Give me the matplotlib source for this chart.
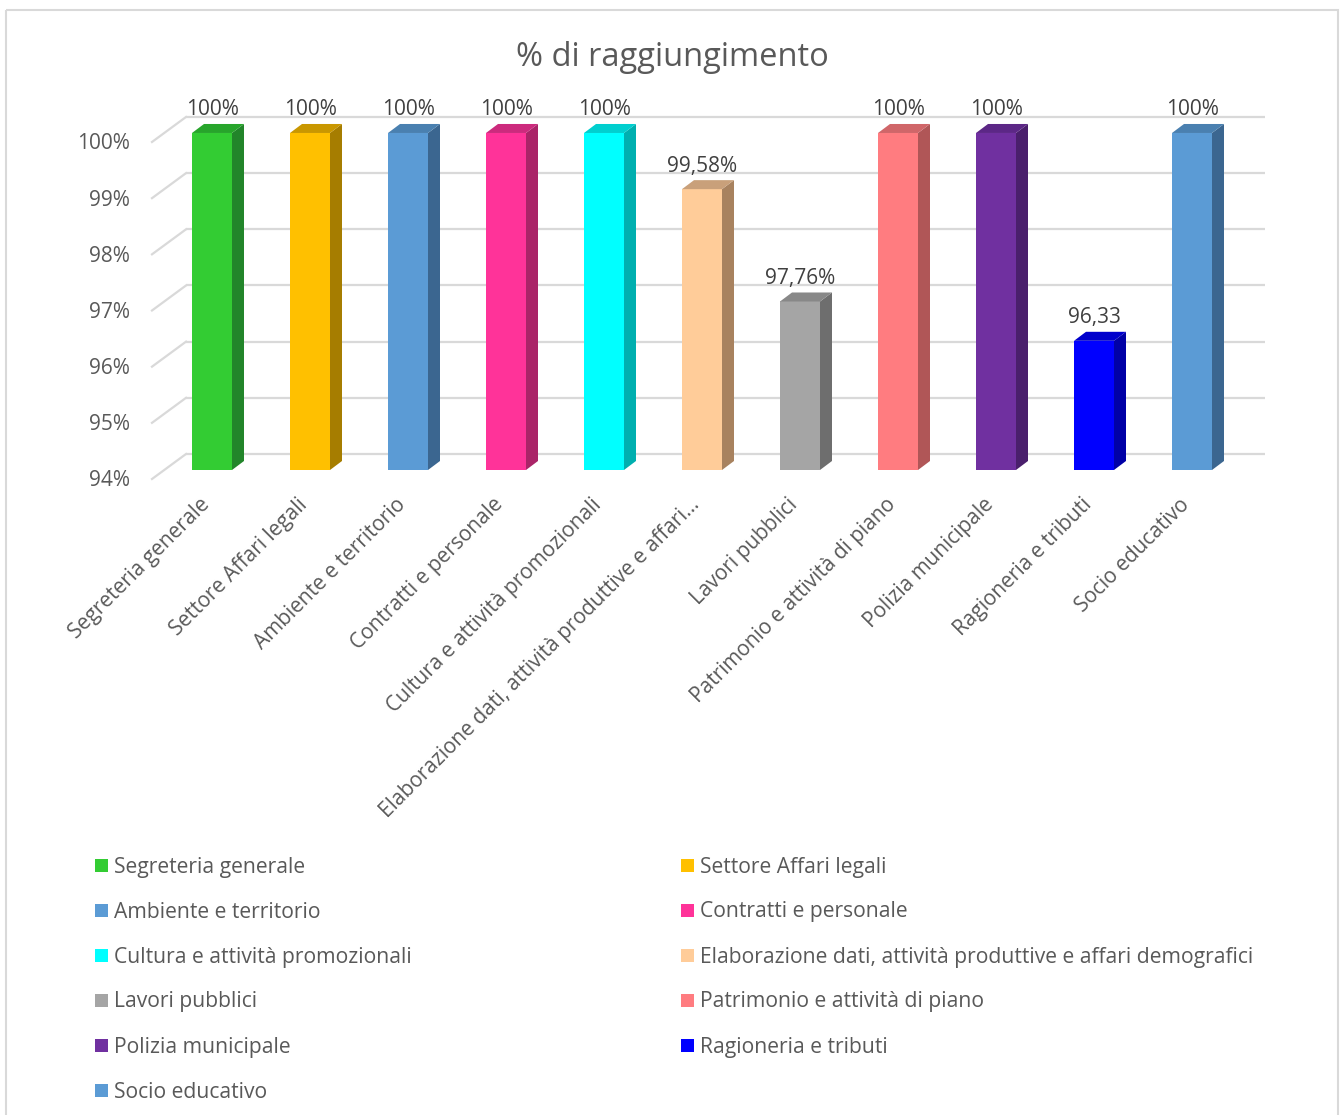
import matplotlib
matplotlib.use("Agg")
import matplotlib.pyplot as plt
from matplotlib.patches import Polygon, Rectangle

# ---------------- data ----------------
categories = [
    "Segreteria generale",
    "Settore Affari legali",
    "Ambiente e territorio",
    "Contratti e personale",
    "Cultura e attività promozionali",
    "Elaborazione dati, attività produttive e affari demografici",
    "Lavori pubblici",
    "Patrimonio e attività di piano",
    "Polizia municipale",
    "Ragioneria e tributi",
    "Socio educativo",
]
tick_labels_x = [
    "Segreteria generale",
    "Settore Affari legali",
    "Ambiente e territorio",
    "Contratti e personale",
    "Cultura e attività promozionali",
    "Elaborazione dati, attività produttive e affari…",
    "Lavori pubblici",
    "Patrimonio e attività di piano",
    "Polizia municipale",
    "Ragioneria e tributi",
    "Socio educativo",
]
values = [100, 100, 100, 100, 100, 99.0, 97.0, 100, 100, 96.3, 100]
value_labels = ["100%", "100%", "100%", "100%", "100%", "99,58%", "97,76%",
                "100%", "100%", "96,33", "100%"]
y_ticks = [94, 95, 96, 97, 98, 99, 100]
y_tick_labels = ["94%", "95%", "96%", "97%", "98%", "99%", "100%"]
title = "% di raggiungimento"

front_colors = ["#33CC33", "#FFC000", "#5B9BD5", "#FF3399", "#00FFFF", "#FFCC99",
                "#A5A5A5", "#FF7C80", "#7030A0", "#0000FF", "#5B9BD5"]
side_colors = ["#22852A", "#A67D00", "#3B6690", "#AA2468", "#00AFAF", "#A8825F",
               "#6E6E6E", "#B05657", "#4A1F6C", "#0000A6", "#3B6690"]
top_colors = ["#27A52B", "#C99700", "#4A80B0", "#CC2A7D", "#00CFCF", "#C9A07A",
              "#888888", "#D06669", "#5C2786", "#0000CC", "#4A80B0"]

FONT = "Open Sans"
TXT = "#595959"
LBL = "#404040"
GRID = "#D9D9D9"

W, H = 1342, 1115
fig = plt.figure(figsize=(W / 100, H / 100), dpi=100)
fig.patch.set_facecolor("white")

# overlay in pixel coordinates
ov = fig.add_axes([0, 0, 1, 1])
ov.set_xlim(0, W)
ov.set_ylim(H, 0)
ov.axis("off")
ov.add_patch(Rectangle((6, 10), 1332, 1120, fill=False, edgecolor="#D9D9D9", lw=1.5))
ov.text(672, 57, title, ha="center", va="center", fontsize=23.5, color=TXT, family=FONT)

# main plotting axes (bar-front plane in data coordinates)
X0, PXX = 212.0, 98.0          # px of category 0, px per category
Y94, PXY = 470.0, 56.17        # px of 94%, px per percentage point
ax_l, ax_r, ax_t, ax_b = 140, 1290, 95, 485
ax = fig.add_axes([ax_l / W, 1 - ax_b / H, (ax_r - ax_l) / W, (ax_b - ax_t) / H])
ax.set_xlim((ax_l - X0) / PXX, (ax_r - X0) / PXX)
ax.set_ylim(94 - (ax_b - Y94) / PXY, 94 + (Y94 - ax_t) / PXY)
ax.axis("off")

def dxp(px):
    return px / PXX

def dyp(px):
    return px / PXY

# gridlines: back wall + floor-side diagonals
back_dx, back_dy = dxp(186 - X0), dyp(16)
front_x, front_dy = dxp(152 - X0), -dyp(9)
right_x = dxp(1265 - X0)
for v in y_ticks:
    ax.plot([back_dx, right_x], [v + back_dy, v + back_dy], color=GRID, lw=1.6,
            solid_capstyle="butt", zorder=1)
    ax.plot([front_x, back_dx], [v + front_dy, v + back_dy], color=GRID, lw=1.6,
            zorder=1)
for v, lab in zip(y_ticks, y_tick_labels):
    ax.text(dxp(130 - X0), v - dyp(11), lab, ha="right", va="center", fontsize=15,
            color=TXT, family=FONT)

# bars
bw = dxp(40)
ddx, ddy = dxp(12), dyp(9)
for i, v in enumerate(values):
    l, r = i - bw / 2, i + bw / 2
    ax.add_patch(Rectangle((l, 94), bw, v - 94, facecolor=front_colors[i],
                           edgecolor="none", zorder=3))
    ax.add_patch(Polygon([(r, 94), (r + ddx, 94 + ddy), (r + ddx, v + ddy), (r, v)],
                         closed=True, facecolor=side_colors[i], edgecolor="none", zorder=3))
    ax.add_patch(Polygon([(l, v), (r, v), (r + ddx, v + ddy), (l + ddx, v + ddy)],
                         closed=True, facecolor=top_colors[i], edgecolor="none", zorder=3))
    ax.text(i, v + dyp(23), value_labels[i], ha="center", va="center", fontsize=15,
            color=LBL, family=FONT, zorder=4)
    ax.text(i - dxp(13), 94 - dyp(24), tick_labels_x[i], ha="right", va="top",
            rotation=45, rotation_mode="anchor", fontsize=15, color=TXT,
            family=FONT, zorder=4)

# legend (two columns, row-major)
for k, name in enumerate(categories):
    row, col = divmod(k, 2)
    y = 865 + 45 * row
    mx = 95 if col == 0 else 681
    ov.add_patch(Rectangle((mx, y - 6.5), 13, 13, facecolor=front_colors[k],
                           edgecolor="none"))
    ov.text(mx + 19, y + 2, name, ha="left", va="center", fontsize=15.2, color=TXT,
            family=FONT)

fig.savefig("out.png", dpi=100, facecolor="white")
